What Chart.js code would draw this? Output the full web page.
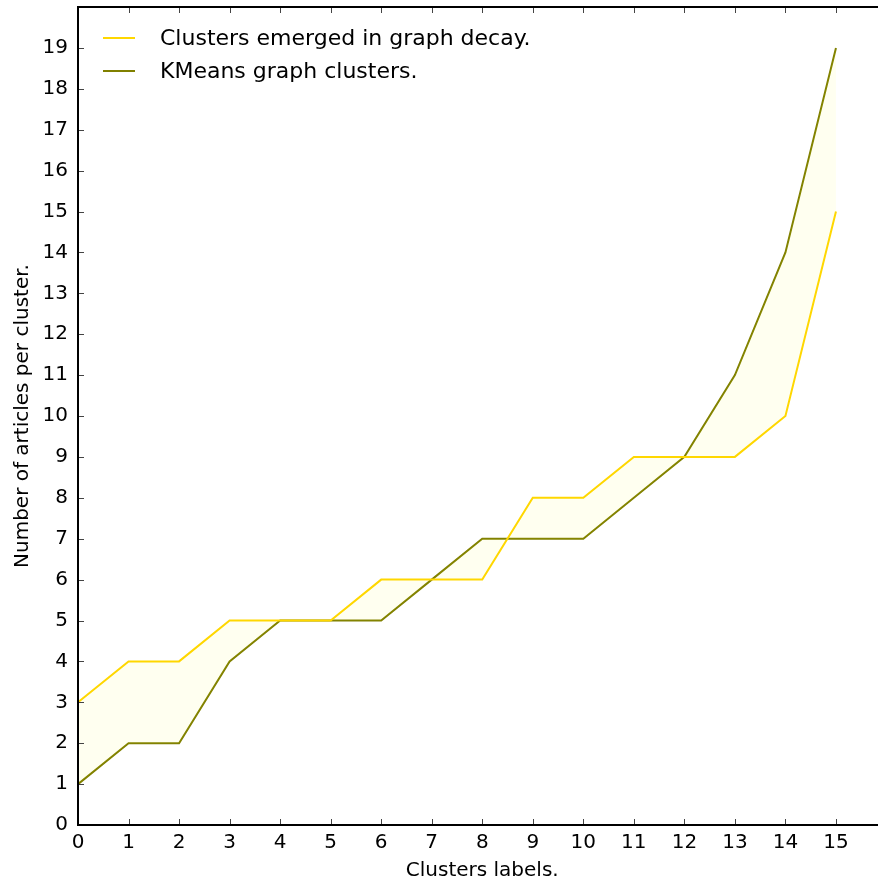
<!DOCTYPE html>
<html lang="en">
<head>
  <meta charset="UTF-8">
  <title>Clusters</title>
  <script src="https://cdn.jsdelivr.net/npm/chart.js"></script>
  <style>
    html, body { margin: 0; padding: 0; background: #fff; overflow: hidden; }
    #wrap { position: relative; width: 900px; height: 884px; }
  </style>
</head>
<body>
<div id="wrap">
  <canvas id="grafico"></canvas>
</div>

<script>
  // cluster labels (x) and sizes per series
  const clusterLabels = [0, 1, 2, 3, 4, 5, 6, 7, 8, 9, 10, 11, 12, 13, 14, 15];
  const decaySizes = [3, 4, 4, 5, 5, 5, 6, 6, 6, 8, 8, 9, 9, 9, 10, 15];
  const kmeansSizes = [1, 2, 2, 4, 5, 5, 5, 6, 7, 7, 7, 8, 9, 11, 14, 19];
  const seriesNames = ["Clusters emerged in graph decay.", "KMeans graph clusters."];
  const seriesColors = ["#FFD700", "#808000"];

  const FONT = "'DejaVu Sans', sans-serif";

  const pontos = (ys) => clusterLabels.map((x, i) => ({ x: x, y: ys[i] }));

  // box, inward ticks on all four sides, legend inside the plot
  const moldura = {
    id: "moldura",
    afterDraw(chart) {
      const { ctx, chartArea: a, scales } = chart;
      ctx.save();
      ctx.strokeStyle = "#444";
      ctx.lineWidth = 1;
      const tl = 6;
      scales.x.ticks.forEach(t => {
        const px = Math.round(scales.x.getPixelForValue(t.value)) + 0.5;
        ctx.beginPath();
        ctx.moveTo(px, a.bottom); ctx.lineTo(px, a.bottom - tl);
        ctx.moveTo(px, a.top); ctx.lineTo(px, a.top + tl);
        ctx.stroke();
      });
      scales.y.ticks.forEach(t => {
        const py = Math.round(scales.y.getPixelForValue(t.value)) + 0.5;
        ctx.beginPath();
        ctx.moveTo(a.left, py); ctx.lineTo(a.left + tl, py);
        ctx.moveTo(a.right, py); ctx.lineTo(a.right - tl, py);
        ctx.stroke();
      });
      ctx.strokeStyle = "#000";
      ctx.lineWidth = 2;
      ctx.strokeRect(a.left, a.top, a.right - a.left, a.bottom - a.top);

      // legend
      ctx.font = "22px " + FONT;
      ctx.textBaseline = "middle";
      ctx.fillStyle = "#000";
      chart.data.datasets.forEach((ds, i) => {
        const y = a.top + 31 + i * 33;
        ctx.strokeStyle = ds.borderColor;
        ctx.lineWidth = 2;
        ctx.beginPath();
        ctx.moveTo(a.left + 25, y); ctx.lineTo(a.left + 57, y);
        ctx.stroke();
        ctx.fillText(ds.label, a.left + 82, y + 1);
      });
      ctx.restore();
    }
  };

  document.addEventListener("DOMContentLoaded", () => {
    const ctx = document.getElementById("grafico").getContext("2d");

    new Chart(ctx, {
      type: "line",
      data: {
        datasets: [
          {
            label: seriesNames[0],
            data: pontos(decaySizes),
            borderColor: seriesColors[0],
            backgroundColor: "rgba(255,255,0,0.06)",
            borderWidth: 2,
            fill: 1,
            pointRadius: 0,
            tension: 0
          },
          {
            label: seriesNames[1],
            data: pontos(kmeansSizes),
            borderColor: seriesColors[1],
            borderWidth: 2,
            fill: false,
            pointRadius: 0,
            tension: 0
          }
        ]
      },
      options: {
        responsive: true,
        maintainAspectRatio: false,
        animation: false,
        layout: { padding: { left: 0, top: 7, right: 13.5, bottom: 0 } },
        plugins: {
          legend: { display: false },
          tooltip: { enabled: false },
          filler: { propagate: false }
        },
        scales: {
          x: {
            type: "linear",
            min: 0,
            max: 16,
            border: { display: false },
            grid: { display: false, drawTicks: false },
            afterFit: s => { s.height = 59; s.paddingLeft = 0; s.paddingRight = 0; },
            ticks: {
              stepSize: 1,
              padding: 6,
              color: "#000",
              font: { family: FONT, size: 20 },
              maxRotation: 0,
              callback: v => (v <= 15 ? v : "")
            },
            title: {
              display: true,
              text: "Clusters labels.",
              color: "#000",
              font: { family: FONT, size: 20 },
              padding: { top: 0, bottom: 1 }
            }
          },
          y: {
            min: 0,
            max: 20,
            border: { display: false },
            grid: { display: false, drawTicks: false },
            afterFit: s => { s.width = 78; s.paddingTop = 0; s.paddingBottom = 0; },
            ticks: {
              stepSize: 1,
              padding: 10,
              color: "#000",
              font: { family: FONT, size: 20 },
              callback: v => (v < 20 ? v : "")
            },
            title: {
              display: true,
              text: "Number of articles per cluster.",
              color: "#000",
              font: { family: FONT, size: 20 },
              padding: { top: 11, bottom: 0 }
            }
          }
        }
      },
      plugins: [moldura]
    });
  });
</script>
</body>
</html>
